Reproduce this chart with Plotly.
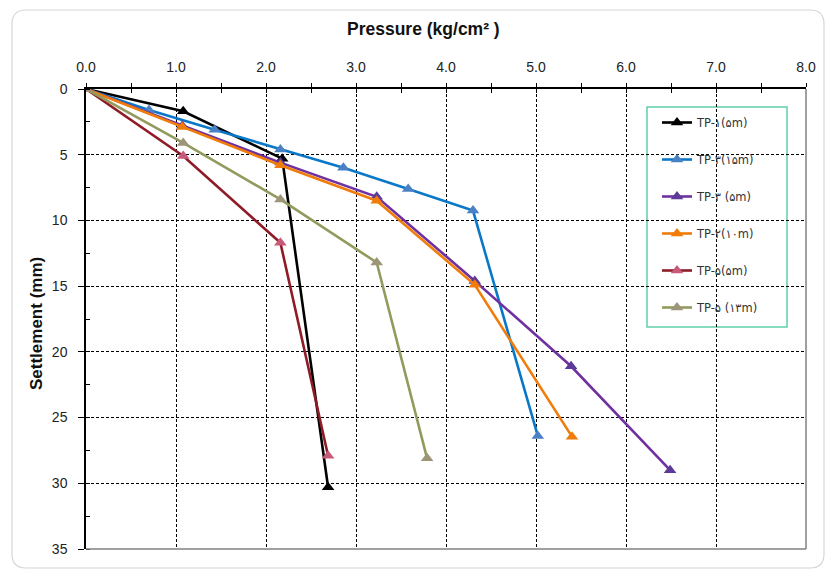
import plotly.graph_objects as go

# Plate load test results: pressure (kg/cm²) vs settlement (mm)
names = ["TP-۱(۵m)", "TP-۳(۱۵m)", "TP-۳ (۵m)", "TP-۲(۱۰m)", "TP-۵(۵m)", "TP-۵ (۱۳m)"]

tp1_p = [0, 1.08, 2.18, 2.69]
tp1_s = [0, 1.7, 5.3, 30.3]

tp3_15_p = [0, 0.70, 1.43, 2.16, 2.86, 3.58, 4.30, 5.02]
tp3_15_s = [0, 1.6, 3.1, 4.6, 6.0, 7.6, 9.25, 26.4]

tp3_5_p = [0, 1.07, 2.16, 3.23, 4.32, 5.39, 6.49]
tp3_5_s = [0, 2.8, 5.6, 8.2, 14.6, 21.1, 29.0]

tp2_10_p = [0, 1.07, 2.16, 3.23, 4.32, 5.40]
tp2_10_s = [0, 2.9, 5.8, 8.5, 14.9, 26.45]

tp5_5_p = [0, 1.08, 2.16, 2.69]
tp5_5_s = [0, 5.1, 11.7, 27.9]

tp5_13_p = [0, 1.08, 2.16, 3.23, 3.79]
tp5_13_s = [0, 4.1, 8.4, 13.2, 28.1]

x_ticks = [0, 1, 2, 3, 4, 5, 6, 7, 8]
y_ticks = [0, 5, 10, 15, 20, 25, 30, 35]

x_title = "<b>Pressure (kg/cm² )</b>"
y_title = "<b>Settlement (mm)</b>"

series = [
    (tp1_p, tp1_s, "#000000", "#000000"),
    (tp3_15_p, tp3_15_s, "#0A78C8", "#4A80C4"),
    (tp3_5_p, tp3_5_s, "#7030A0", "#5B3A98"),
    (tp2_10_p, tp2_10_s, "#F07C0A", "#F07C0A"),
    (tp5_5_p, tp5_5_s, "#8E1B26", "#C65A78"),
    (tp5_13_p, tp5_13_s, "#929A5E", "#9C957A"),
]

FONT = "Liberation Sans, Arial, DejaVu Sans, sans-serif"

fig = go.Figure()
for name, (px, sy, lc, mc) in zip(names, series):
    fig.add_trace(go.Scatter(
        x=px, y=sy, name=name, legendgroup=name, mode="lines+markers",
        line=dict(color=lc, width=2.6),
        marker=dict(symbol="triangle-up", size=11, color=mc),
    ))

# helper trace so the overlaid top axis (inner tick halves) is drawn
fig.add_trace(go.Scatter(x=[], y=[], xaxis="x2", showlegend=False, hoverinfo="skip"))

W, H = 830, 572
L, R, T, B = 86, 24, 89, 23
pw, ph = W - L - R, H - T - B


def px2paper(xp, yp):
    return (xp - L) / pw, (H - B - yp) / ph


# rounded frame around the whole chart
x0, y1 = px2paper(12, 10)
x1, y0 = px2paper(824, 568)
rx, ry = 14 / pw, 14 / ph
frame = (f"M{x0+rx},{y1} L{x1-rx},{y1} Q{x1},{y1} {x1},{y1-ry} "
         f"L{x1},{y0+ry} Q{x1},{y0} {x1-rx},{y0} L{x0+rx},{y0} "
         f"Q{x0},{y0} {x0},{y0+ry} L{x0},{y1-ry} Q{x0},{y1} {x0+rx},{y1} Z")

lx0, ly1 = px2paper(647, 107)
lx1, ly0 = px2paper(787, 327)

tx, ty = px2paper(423, 29)
yx, yy = px2paper(36, 324)

fig.update_layout(
    width=W, height=H,
    margin=dict(l=L, r=R, t=T, b=B),
    paper_bgcolor="white", plot_bgcolor="white",
    font=dict(family=FONT, color="#222222", size=13),
    showlegend=True,
    legend=dict(
        x=(657 - L) / pw, y=px2paper(0, 108)[1], xanchor="left", yanchor="top",
        bgcolor="rgba(255,255,255,0)", borderwidth=0,
        font=dict(family="DejaVu Sans, sans-serif", size=11.5, color="#333333"),
        traceorder="grouped", tracegroupgap=18, itemwidth=30,
    ),
    xaxis=dict(
        side="top", range=[0, 8], tickvals=x_ticks, tickformat=".1f",
        showline=True, linecolor="#000000", linewidth=1.5,
        ticks="outside", ticklen=4, tickcolor="#000000", tickwidth=1.2,
        minor=dict(dtick=0.5, ticks="outside", ticklen=4, tickcolor="#000000", showgrid=False),
        showgrid=True, gridcolor="#000000", gridwidth=1, griddash="3px,2px",
        zeroline=False, tickfont=dict(size=14, color="#222222"),
        ticklabelstandoff=6,
    ),
    xaxis2=dict(
        overlaying="x", matches="x", side="top", anchor="y", range=[0, 8],
        tickvals=x_ticks, showticklabels=False, showgrid=False, zeroline=False,
        ticks="inside", ticklen=4, tickcolor="#000000", tickwidth=1.2,
        minor=dict(dtick=0.5, ticks="inside", ticklen=4, tickcolor="#000000", showgrid=False),
    ),
    yaxis=dict(
        range=[35, 0], tickvals=y_ticks,
        showline=True, linecolor="#000000", linewidth=1.5,
        ticks="outside", ticklen=6, tickcolor="#000000", tickwidth=1.2,
        minor=dict(dtick=2.5, ticks="inside", ticklen=4, tickcolor="#000000", showgrid=False),
        showgrid=True, gridcolor="#000000", gridwidth=1, griddash="3px,2px",
        zeroline=False, tickfont=dict(size=14, color="#222222"),
        ticklabelstandoff=8,
    ),
    annotations=[
        dict(text=x_title, xref="paper", yref="paper", x=tx, y=ty,
             xanchor="center", yanchor="middle", showarrow=False,
             font=dict(size=17.5, color="#111111")),
        dict(text=y_title, xref="paper", yref="paper", x=yx, y=yy, textangle=-90,
             xanchor="center", yanchor="middle", showarrow=False,
             font=dict(size=17, color="#111111")),
    ],
    shapes=[
        dict(type="path", xref="paper", yref="paper", path=frame,
             line=dict(color="#D6D6D6", width=1.2), fillcolor="rgba(0,0,0,0)", layer="below"),
        dict(type="line", xref="paper", yref="paper", x0=1, x1=1, y0=0, y1=1,
             line=dict(color="#808080", width=1.5)),
        dict(type="line", xref="paper", yref="paper", x0=0, x1=1, y0=0, y1=0,
             line=dict(color="#808080", width=1.5)),
        dict(type="rect", xref="paper", yref="paper", x0=lx0, x1=lx1, y0=ly0, y1=ly1,
             line=dict(color="#5FCFA8", width=1.5), fillcolor="white", layer="below"),
    ],
)

fig.write_html("out.html")
